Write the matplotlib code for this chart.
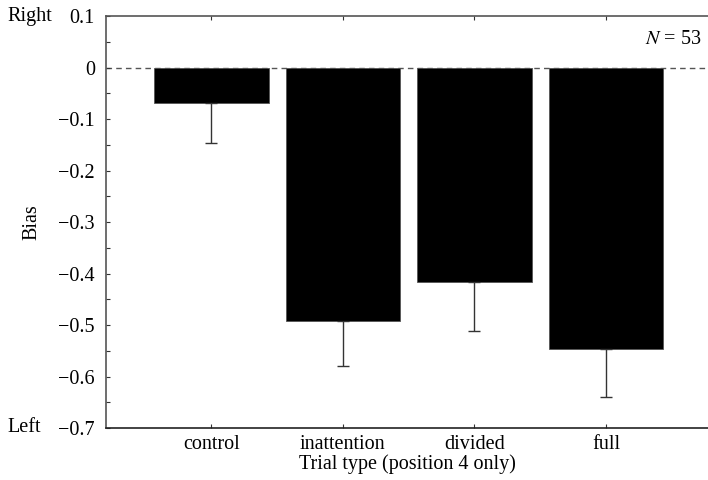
import matplotlib
matplotlib.use("Agg")
import matplotlib.pyplot as plt
import numpy as np

categories = ["control", "inattention", "divided", "full"]
bias = [-0.068, -0.493, -0.416, -0.546]
err = [0.079, 0.086, 0.096, 0.093]
yticks = [0.1, 0, -0.1, -0.2, -0.3, -0.4, -0.5, -0.6, -0.7]

plt.rcParams['font.family'] = ['Liberation Serif', 'DejaVu Serif']
plt.rcParams['mathtext.fontset'] = 'stix'
FS = 14.5

fig = plt.figure(figsize=(7.08, 4.8), dpi=100)
ax = fig.add_axes([106/708, 1-428/480, 1-106/708, (428-16)/480])

x = np.arange(1, len(categories)+1)
ax.bar(x, bias, width=0.87, color='black', edgecolor='#555555', linewidth=0.6, zorder=2)
ax.errorbar(x, bias, yerr=[err, [0]*len(err)], fmt='none', ecolor='#333333',
            elinewidth=1.0, capsize=4, capthick=1.0, zorder=3)
ax.axhline(0, color='#555555', linestyle=(0, (4, 3)), linewidth=1.0, zorder=1)

ax.set_xlim(0.2, 4.775)
ax.set_ylim(-0.7, 0.1)
ax.set_xticks(x)
ax.set_xticklabels(categories, fontsize=FS)
ax.set_yticks(yticks)
ax.set_yticklabels(["0.1" if t == 0.1 else ("0" if t == 0 else "\u2212%.1f" % abs(t)) for t in yticks], fontsize=FS)
ax.set_yticks(np.arange(-0.7, 0.1001, 0.05), minor=True)
ax.tick_params(axis='y', which='both', direction='in', length=3, width=0.8, color='#333333', pad=8)
ax.tick_params(axis='x', which='both', direction='in', length=3, width=0.8, top=True, color='#333333', pad=5)
for s in ['left', 'top']:
    ax.spines[s].set_color('#555555')
    ax.spines[s].set_linewidth(1.2)
ax.spines['bottom'].set_color('#222222')
ax.spines['bottom'].set_linewidth(1.2)
ax.spines['right'].set_visible(False)

ax.set_xlabel("Trial type (position 4 only)", fontsize=FS, labelpad=0)
ax.set_ylabel("Bias", fontsize=FS, labelpad=12)
ax.text(0.99, 0.965, r"$N$ = 53", transform=ax.transAxes, ha='right', va='top', fontsize=FS)
fig.text(7/708, 1-16/480, "Right", ha='left', va='center', fontsize=FS)
fig.text(7/708, 1-428/480, "Left", ha='left', va='center', fontsize=FS)

fig.savefig("out.png", dpi=100)
